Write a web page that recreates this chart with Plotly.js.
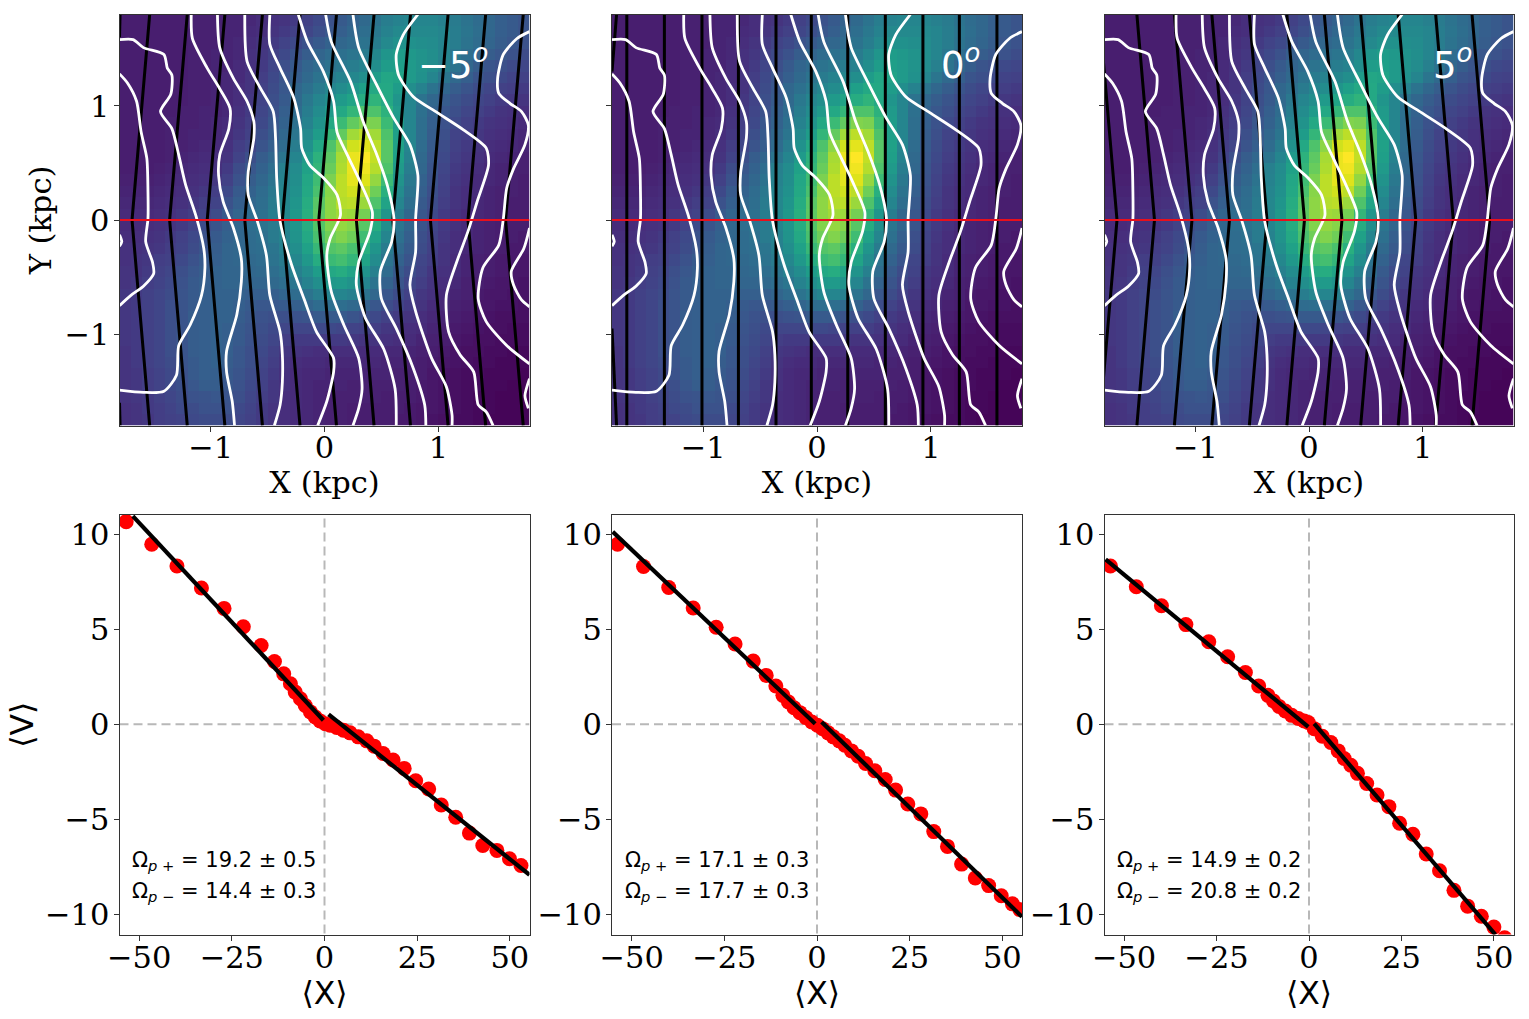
<!DOCTYPE html>
<html>
<head>
<meta charset="utf-8">
<script src="https://cdn.plot.ly/plotly-3.0.1.min.js"></script>
<style>body{margin:0;background:#fff}</style>
</head>
<body>
<div id="myDiv"></div>
<script>
// map cell centres (kpc)
var mapX = [-1.75,-1.65,-1.55,-1.45,-1.35,-1.25,-1.15,-1.05,-0.95,-0.85,-0.75,-0.65,-0.55,-0.45,-0.35,-0.25,-0.15,-0.05,0.05,0.15,0.25,0.35,0.45,0.55,0.65,0.75,0.85,0.95,1.05,1.15,1.25,1.35,1.45,1.55,1.65,1.75];
var mapY = [1.75,1.65,1.55,1.45,1.35,1.25,1.15,1.05,0.95,0.85,0.75,0.65,0.55,0.45,0.35,0.25,0.15,0.05,-0.05,-0.15,-0.25,-0.35,-0.45,-0.55,-0.65,-0.75,-0.85,-0.95,-1.05,-1.15,-1.25,-1.35,-1.45,-1.55,-1.65,-1.75];
// surface brightness, read by eye from the colours, one row per mapY
var mapZ = [
[8,8,8,8,8,8,9,9,9,10,10,11,13,14,15,17,19,22,25,28,31,34,38,42,44,45,45,45,43,41,38,35,33,30,28,26],
[8,8,8,8,8,8,9,9,9,10,10,12,13,15,17,19,21,24,27,30,33,36,40,44,47,47,47,47,45,42,39,36,33,30,28,26],
[8,8,8,8,8,8,9,9,9,10,11,13,15,17,20,22,25,28,31,33,35,38,42,47,50,50,49,48,45,42,38,35,32,29,27,25],
[8,8,8,8,8,8,9,9,10,10,11,14,16,19,22,25,29,32,35,37,39,41,46,52,55,53,51,49,45,40,36,32,29,27,25,23],
[8,8,8,8,8,8,9,9,10,10,12,14,17,21,24,28,32,35,38,40,42,44,49,55,56,54,51,48,43,38,33,29,26,24,22,21],
[8,8,8,8,8,8,9,9,10,11,12,15,18,22,26,30,34,38,41,44,46,49,55,59,58,54,50,45,39,34,30,26,24,22,20,19],
[8,8,8,8,8,8,9,9,10,11,13,15,19,23,27,33,37,41,45,48,52,56,60,60,55,49,44,38,33,29,26,23,21,19,18,17],
[8,8,8,8,8,8,9,9,10,11,13,16,20,24,28,34,40,45,49,54,58,62,65,60,52,45,38,33,29,26,23,21,19,17,16,15],
[8,8,8,8,8,9,9,10,10,11,14,17,21,25,30,35,42,48,54,60,66,72,72,64,54,45,37,31,27,24,21,19,17,15,14,13],
[8,8,8,8,9,9,9,10,11,12,15,18,22,27,31,37,44,51,60,68,76,81,80,68,55,45,36,30,25,22,19,17,15,14,13,12],
[8,8,8,8,9,9,10,10,11,13,16,19,24,28,33,39,47,55,66,76,86,90,86,72,56,45,36,29,24,20,18,16,14,13,12,11],
[8,8,8,8,9,9,10,11,12,14,18,21,26,30,35,42,50,60,72,83,93,96,90,74,57,45,35,28,23,19,17,15,13,12,11,10],
[8,8,8,8,9,10,11,12,13,15,20,24,29,33,39,45,54,64,75,87,97,100,91,74,56,44,34,27,22,18,16,14,12,11,10,9],
[8,8,8,9,10,11,12,13,14,17,23,27,31,36,43,48,57,66,77,88,97,98,89,72,54,42,33,26,21,17,15,13,11,10,9,9],
[9,9,9,10,11,12,13,14,16,19,25,29,33,38,44,49,59,69,80,90,96,95,84,68,51,40,31,25,20,16,14,12,11,10,9,8],
[10,10,10,11,12,13,14,16,18,22,28,31,35,40,45,50,60,71,82,90,93,90,78,63,48,38,30,24,19,15,13,12,10,9,9,8],
[11,11,11,12,13,14,16,18,20,25,30,33,36,41,46,52,62,74,83,89,90,85,72,58,45,36,28,23,18,15,13,11,10,9,8,8],
[12,12,12,13,14,16,18,20,23,28,32,35,37,42,46,53,63,75,83,86,85,79,66,52,42,33,27,22,17,14,12,11,10,9,8,8],
[12,12,13,14,15,17,20,23,26,30,33,36,38,41,45,52,62,73,81,84,82,74,62,49,39,32,26,21,17,14,12,10,9,8,8,8],
[13,13,14,15,17,19,22,25,28,31,33,35,37,41,44,51,60,71,78,81,78,69,57,45,37,30,24,20,16,13,11,10,9,8,8,7],
[14,14,15,16,18,20,23,26,29,32,33,35,36,39,43,49,57,67,73,75,71,63,52,41,34,28,23,19,15,13,11,10,9,8,7,7],
[14,15,16,18,19,22,25,28,30,32,33,34,35,38,41,46,53,62,68,70,66,58,48,38,31,26,21,18,15,12,10,9,8,7,7,6],
[15,15,17,19,21,24,27,29,31,32,32,33,34,36,39,43,48,55,60,62,58,51,43,35,28,23,20,16,14,12,10,9,8,7,6,6],
[15,16,18,20,22,25,28,30,31,32,32,32,32,34,36,39,44,49,53,54,51,45,38,31,26,21,18,15,13,11,9,8,7,6,6,5],
[16,17,19,21,23,26,28,30,31,31,31,30,30,30,32,35,38,42,45,45,43,38,33,27,23,19,16,14,12,10,9,7,6,6,5,5],
[16,17,19,21,24,26,28,30,31,31,30,28,27,27,28,30,32,35,36,36,34,31,27,23,20,17,15,12,11,9,8,6,6,5,5,4],
[16,17,19,21,24,26,29,30,31,31,29,27,25,24,24,25,26,28,28,28,26,24,22,19,17,15,13,11,10,8,7,6,5,4,4,4],
[16,17,19,21,24,26,29,30,31,30,28,26,24,22,21,21,21,22,22,21,20,19,18,16,15,13,12,10,9,7,6,5,4,4,3,3],
[16,17,19,21,24,26,29,30,31,30,28,25,23,21,18,17,17,17,17,17,16,15,15,14,13,12,10,9,8,6,5,4,4,3,3,3],
[15,17,19,21,24,26,29,30,31,30,27,24,22,19,16,15,14,13,13,13,13,12,12,11,11,10,9,8,7,5,4,4,3,3,2,2],
[15,17,19,21,23,26,28,30,31,29,27,24,21,18,15,13,12,12,11,11,11,11,11,10,10,9,8,7,6,5,4,3,3,2,2,2],
[15,16,18,20,22,25,28,30,30,28,26,23,20,17,14,12,11,11,10,10,10,10,10,10,9,9,8,6,5,4,3,3,2,2,2,1],
[15,16,18,20,22,24,27,29,29,27,25,22,19,16,14,12,11,10,10,10,9,9,9,9,9,8,7,6,5,4,3,3,2,2,1,1],
[15,16,17,19,21,23,25,26,27,26,24,21,18,16,13,12,11,10,9,9,9,9,9,8,8,8,7,6,5,4,3,2,2,1,1,1],
[14,15,17,18,20,22,23,25,25,25,22,20,17,15,13,12,11,10,9,9,8,8,8,8,8,7,6,6,5,4,3,2,2,1,1,1],
[14,15,16,18,19,20,22,23,23,23,21,19,17,15,13,12,11,10,9,9,8,8,8,8,7,7,6,5,4,3,3,2,1,1,1,1]
];

// white velocity contours, [x, y] in kpc
var contours = [
 [[-1.80,1.58],[-1.68,1.58],[-1.59,1.51],[-1.41,1.45],[-1.38,1.33],[-1.34,1.27],[-1.35,1.10],[-1.44,0.95],[-1.34,0.80],[-1.28,0.57],[-1.22,0.31],[-1.13,0.04],[-1.06,-0.25],[-1.05,-0.42],[-1.08,-0.66],[-1.18,-0.92],[-1.28,-1.10],[-1.30,-1.36],[-1.41,-1.50],[-1.59,-1.51],[-1.80,-1.49]],
 [[-1.80,1.28],[-1.73,1.20],[-1.65,1.04],[-1.61,0.77],[-1.56,0.54],[-1.55,0.25],[-1.55,0.01],[-1.57,-0.19],[-1.51,-0.37],[-1.50,-0.47],[-1.59,-0.58],[-1.70,-0.66],[-1.80,-0.75]],
 [[-1.80,-0.13],[-1.78,-0.19],[-1.80,-0.23]],
 [[-1.17,1.80],[-1.16,1.59],[-1.03,1.33],[-0.92,1.15],[-0.83,0.98],[-0.84,0.80],[-0.92,0.57],[-0.93,0.39],[-0.89,0.16],[-0.80,-0.07],[-0.73,-0.34],[-0.73,-0.54],[-0.77,-0.83],[-0.86,-1.15],[-0.86,-1.33],[-0.81,-1.59],[-0.79,-1.80]],
 [[-0.94,1.80],[-0.92,1.51],[-0.80,1.24],[-0.68,1.04],[-0.62,0.86],[-0.62,0.72],[-0.67,0.42],[-0.67,0.22],[-0.59,-0.01],[-0.51,-0.31],[-0.48,-0.66],[-0.39,-0.98],[-0.37,-1.18],[-0.37,-1.42],[-0.39,-1.62],[-0.44,-1.80]],
 [[-0.70,1.80],[-0.68,1.39],[-0.56,1.15],[-0.45,0.95],[-0.43,0.72],[-0.42,0.37],[-0.39,-0.01],[-0.29,-0.39],[-0.18,-0.69],[-0.07,-0.98],[0.08,-1.21],[0.08,-1.33],[0.02,-1.59],[-0.06,-1.80]],
 [[-0.48,1.80],[-0.48,1.54],[-0.39,1.33],[-0.27,1.07],[-0.21,0.80],[-0.20,0.63],[-0.13,0.48],[-0.01,0.37],[0.11,0.22],[0.14,0.04],[0.05,-0.16],[0.02,-0.31],[0.06,-0.63],[0.17,-0.92],[0.30,-1.21],[0.33,-1.48],[0.30,-1.65],[0.25,-1.80]],
 [[-0.23,1.80],[-0.15,1.56],[-0.01,1.30],[0.08,1.04],[0.11,0.77],[0.20,0.57],[0.31,0.34],[0.42,0.07],[0.40,-0.10],[0.30,-0.37],[0.28,-0.57],[0.36,-0.86],[0.52,-1.13],[0.62,-1.48],[0.63,-1.80]],
 [[0.01,1.80],[0.06,1.56],[0.23,1.21],[0.34,0.86],[0.46,0.57],[0.55,0.31],[0.61,0.01],[0.59,-0.19],[0.49,-0.45],[0.50,-0.69],[0.63,-0.95],[0.78,-1.30],[0.88,-1.62],[0.89,-1.80]],
 [[0.25,1.80],[0.30,1.51],[0.46,1.18],[0.61,0.89],[0.75,0.66],[0.82,0.39],[0.80,0.01],[0.80,-0.28],[0.75,-0.57],[0.80,-0.80],[0.94,-1.21],[1.07,-1.46],[1.12,-1.71],[1.12,-1.80]],
 [[0.82,1.80],[0.69,1.62],[0.63,1.45],[0.65,1.27],[0.78,1.08],[0.99,0.94],[1.22,0.79],[1.42,0.63],[1.44,0.48],[1.34,0.16],[1.26,-0.10],[1.16,-0.37],[1.07,-0.66],[1.09,-0.98],[1.19,-1.18],[1.31,-1.33],[1.35,-1.62],[1.42,-1.68],[1.48,-1.80]],
 [[1.80,1.65],[1.69,1.59],[1.57,1.45],[1.52,1.24],[1.53,1.11],[1.63,1.02],[1.73,0.95],[1.79,0.83],[1.76,0.66],[1.66,0.45],[1.60,0.28],[1.57,0.01],[1.53,-0.22],[1.39,-0.42],[1.35,-0.69],[1.42,-0.89],[1.60,-1.10],[1.80,-1.26]],
 [[1.80,-0.07],[1.75,-0.25],[1.64,-0.45],[1.66,-0.57],[1.73,-0.70],[1.80,-0.76]],
 [[1.80,-1.39],[1.76,-1.54],[1.79,-1.65]]
];

// black slits: x at y = +1.8 / -1.8 and at y = 0
var slitEndsM5 = [-1.535,-1.205,-0.875,-0.545,-0.215,0.105,0.435,0.755,1.085,1.415,1.745];
var slitMidM5 = [-1.69,-1.36,-1.03,-0.70,-0.37,-0.05,0.28,0.60,0.93,1.26,1.59];
var slitEnds0 = [-1.67,-1.34,-1.01,-0.69,-0.36,-0.05,0.27,0.60,0.93,1.25,1.58];
var slitMid0 = [-1.67,-1.34,-1.01,-0.69,-0.36,-0.05,0.27,0.60,0.93,1.25,1.58];
var slitEndsP5 = [-1.845,-1.515,-1.185,-0.855,-0.525,-0.195,0.135,0.455,0.785,1.115,1.435];
var slitMidP5 = [-1.69,-1.36,-1.03,-0.70,-0.37,-0.04,0.29,0.61,0.94,1.27,1.59];
var slitY = [1.8,0,-1.8];
// short bits of one more slit that just touch the left edge, x at y = +-1.8 and where it leaves
var edgeSlitX = [[-1.795,-1.80],[-1.76,-1.80],[]];
var edgeSlitY = [[1.6,-1.6],[1.3,-0.95],[]];

// bottom row: red points
var ptsXM5 = [-53.5,-46.6,-39.8,-33.2,-27.1,-21.9,-17.1,-13.5,-11.0,-9.2,-7.9,-6.5,-5.2,-3.8,-2.5,-1.2,0.2,1.5,3.3,5.1,6.9,9.1,11.4,13.4,15.8,18.5,21.5,24.6,28.1,31.5,35.4,39.1,42.7,46.5,49.9,53.0];
var ptsYM5 = [10.65,9.46,8.32,7.16,6.09,5.13,4.14,3.30,2.65,2.13,1.69,1.34,0.99,0.65,0.38,0.17,0.03,-0.05,-0.17,-0.31,-0.45,-0.66,-0.87,-1.15,-1.54,-1.88,-2.32,-2.97,-3.40,-4.24,-4.89,-5.72,-6.37,-6.63,-7.07,-7.42];
var ptsX0 = [-53.8,-46.8,-40.0,-33.4,-27.2,-22.1,-17.2,-13.7,-11.1,-9.2,-7.7,-6.2,-4.6,-3.0,-1.4,0.1,1.5,3.0,4.4,6.0,7.5,9.3,11.1,13.1,15.6,18.4,21.2,24.5,28.0,31.5,35.2,39.0,42.7,46.3,49.7,52.7,54.7];
var ptsY0 = [9.46,8.29,7.19,6.11,5.10,4.22,3.32,2.57,2.01,1.52,1.17,0.87,0.61,0.35,0.12,-0.05,-0.23,-0.45,-0.66,-0.87,-1.10,-1.40,-1.68,-2.06,-2.44,-2.90,-3.46,-4.19,-4.71,-5.64,-6.42,-7.35,-8.08,-8.48,-9.01,-9.44,-9.74];
var ptsXP5 = [-53.7,-46.7,-39.9,-33.3,-27.1,-22.0,-17.2,-13.6,-11.1,-9.6,-8.1,-6.4,-4.7,-2.9,-1.3,-0.2,1.4,3.6,5.9,7.9,9.5,11.3,13.1,15.6,18.4,21.6,24.5,28.1,31.7,35.3,39.2,42.9,46.6,50.0,52.9];
var ptsYP5 = [8.32,7.23,6.23,5.24,4.34,3.55,2.72,2.01,1.52,1.22,0.94,0.70,0.47,0.30,0.17,0.09,-0.23,-0.63,-0.96,-1.40,-1.80,-2.15,-2.58,-3.11,-3.72,-4.33,-5.20,-5.78,-6.82,-7.70,-8.73,-9.56,-10.09,-10.66,-11.22];

// black fits, inner and outer end of each branch
var fitXM5 = [[-51.7,-0.3],[1.1,55.3]];
var fitYM5 = [[10.94,0.21],[0.52,-7.91]];
var fitX0 = [[-55.1,-0.5],[1.25,55.3]];
var fitY0 = [[10.12,0.03],[0.12,-10.12]];
var fitXP5 = [[-55.0,-0.2],[1.4,50.4]];
var fitYP5 = [[8.67,-0.14],[0.03,-11.05]];

var angleLabels = ["\u22125<sup><i>o</i></sup>","0<sup><i>o</i></sup>","5<sup><i>o</i></sup>"];
var omegaPlus = ["19.2 \u00b1 0.5","17.1 \u00b1 0.3","14.9 \u00b1 0.2"];
var omegaMinus = ["14.4 \u00b1 0.3","17.7 \u00b1 0.3","20.8 \u00b1 0.2"];

var panels = [
  {ends: slitEndsM5, mid: slitMidM5, px: ptsXM5, py: ptsYM5, fx: fitXM5, fy: fitYM5, left: 119.5, right: 529.5},
  {ends: slitEnds0, mid: slitMid0, px: ptsX0, py: ptsY0, fx: fitX0, fy: fitY0, left: 612, right: 1022},
  {ends: slitEndsP5, mid: slitMidP5, px: ptsXP5, py: ptsYP5, fx: fitXP5, fy: fitYP5, left: 1104.5, right: 1513.5}
];

var W = 1529, H = 1019;
var serif = "DejaVu Serif, serif";
var sans = "DejaVu Sans, sans-serif";
var data = [], annotations = [];
var layout = {
  width: W, height: H, margin: {l: 0, r: 0, t: 0, b: 0},
  paper_bgcolor: "white", plot_bgcolor: "white", showlegend: false
};

function axisBase(domain, range, tickvals, anchor, showLabels, labelShift) {
  return {
    domain: domain, range: range, anchor: anchor, tickvals: tickvals,
    showticklabels: showLabels, ticks: "outside", ticklen: 5, tickwidth: 1, tickcolor: "#333",
    showline: true, mirror: true, linecolor: "#333", linewidth: 1,
    showgrid: false, zeroline: false, ticklabelstandoff: labelShift,
    tickfont: {family: serif, size: 30.5, color: "black"}
  };
}

panels.forEach(function (p, i) {
  var xTop = "x" + (i + 1), yTop = "y" + (i + 1);
  var xBot = "x" + (i + 4), yBot = "y" + (i + 4);

  data.push({type: "heatmap", x: mapX, y: mapY, z: mapZ, xaxis: xTop, yaxis: yTop,
    colorscale: "Viridis", zmin: 0, zmax: 100, showscale: false, hoverinfo: "skip"});

  p.mid.forEach(function (m, k) {
    data.push({type: "scatter", mode: "lines", x: [p.ends[k], m, p.ends[k]], y: slitY, xaxis: xTop, yaxis: yTop,
      line: {color: "black", width: 3}, hoverinfo: "skip"});
  });
  if (edgeSlitX[i].length) {
    [1, -1].forEach(function (s) {
      data.push({type: "scatter", mode: "lines", x: edgeSlitX[i], y: [s * 1.8, edgeSlitY[i][s > 0 ? 0 : 1]], xaxis: xTop, yaxis: yTop,
        line: {color: "black", width: 3}, hoverinfo: "skip"});
    });
  }

  contours.forEach(function (c) {
    data.push({type: "scatter", mode: "lines",
      x: c.map(function (d) { return d[0]; }), y: c.map(function (d) { return d[1]; }),
      xaxis: xTop, yaxis: yTop, line: {color: "white", width: 2.8, shape: "spline", smoothing: 0.7}, hoverinfo: "skip"});
  });

  data.push({type: "scatter", mode: "lines", x: [-1.8, 1.8], y: [0, 0], xaxis: xTop, yaxis: yTop,
    line: {color: "#e8101c", width: 2}, hoverinfo: "skip"});

  // bottom panel
  data.push({type: "scatter", mode: "lines", x: [-55.3, 55.3], y: [0, 0], xaxis: xBot, yaxis: yBot,
    line: {color: "#b8b8b8", width: 2, dash: "9px,5px"}, hoverinfo: "skip"});
  data.push({type: "scatter", mode: "lines", x: [0, 0], y: [-11, 11], xaxis: xBot, yaxis: yBot,
    line: {color: "#b8b8b8", width: 2, dash: "9px,5px"}, hoverinfo: "skip"});
  data.push({type: "scatter", mode: "markers", x: p.px, y: p.py, xaxis: xBot, yaxis: yBot,
    marker: {color: "#ff0000", size: 15}, hoverinfo: "skip"});
  [0, 1].forEach(function (b) {
    data.push({type: "scatter", mode: "lines", x: p.fx[b], y: p.fy[b], xaxis: xBot, yaxis: yBot,
      line: {color: "black", width: 4.2}, hoverinfo: "skip"});
  });

  var xDom = [p.left / W, p.right / W];
  var xa = axisBase(xDom, [-1.8, 1.8], [-1, 0, 1], yTop, true, -10);
  xa.title = {text: "X (kpc)", font: {family: serif, size: 30.5, color: "black"}, standoff: 7};
  var ya = axisBase([1 - 425.5 / H, 1 - 14.5 / H], [-1.8, 1.8], [-1, 0, 1], xTop, i === 0, -2);
  if (i === 0) ya.title = {text: "Y (kpc)", font: {family: serif, size: 30.5, color: "black"}, standoff: 3};
  var xb = axisBase(xDom, [-55.3, 55.3], [-50, -25, 0, 25, 50], yBot, true, -9);
  xb.title = {text: "\u27e8X\u27e9", font: {family: sans, size: 31.5, color: "black"}, standoff: 4};
  var yb = axisBase([1 - 934.5 / H, 1 - 515 / H], [-11.05, 11], [-10, -5, 0, 5, 10], xBot, true, -2);
  if (i === 0) yb.title = {text: "\u27e8V\u27e9", font: {family: sans, size: 31.5, color: "black"}, standoff: 2};

  layout["xaxis" + (i + 1)] = xa;
  layout["yaxis" + (i + 1)] = ya;
  layout["xaxis" + (i + 4)] = xb;
  layout["yaxis" + (i + 4)] = yb;

  annotations.push({xref: xTop, yref: yTop, x: 1.45, y: 1.38, xanchor: "right", yanchor: "middle", showarrow: false,
    text: angleLabels[i], font: {family: sans, size: 37, color: "white"}});
  annotations.push({xref: xBot, yref: yBot, x: -52.4, y: -7.2, xanchor: "left", yanchor: "middle", showarrow: false,
    text: "\u03a9<sub><i>p</i> +</sub> = " + omegaPlus[i], font: {family: sans, size: 21, color: "black"}});
  annotations.push({xref: xBot, yref: yBot, x: -52.4, y: -8.8, xanchor: "left", yanchor: "middle", showarrow: false,
    text: "\u03a9<sub><i>p</i> \u2212</sub> = " + omegaMinus[i], font: {family: sans, size: 21, color: "black"}});
});

layout.annotations = annotations;
Plotly.newPlot("myDiv", data, layout, {displayModeBar: false, staticPlot: true});
</script>
</body>
</html>
